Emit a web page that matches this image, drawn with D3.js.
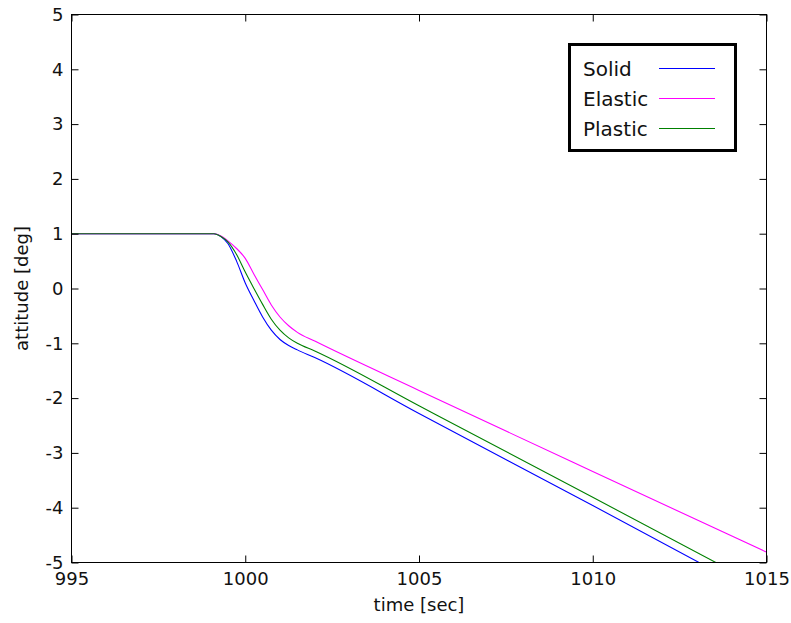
<!DOCTYPE html>
<html>
<head>
<meta charset="utf-8">
<script src="https://cdn.jsdelivr.net/npm/d3@7"></script>
<style>
  html, body { margin: 0; padding: 0; background: #fff; }
  svg { display: block; }
  text { font-family: "DejaVu Sans", sans-serif; fill: #111; }
</style>
</head>
<body>
<svg id="chart" width="791" height="623"></svg>
<script>
// Attitude response after impact, three structural models
const timeSec = [995, 999.1, 999.3, 999.5, 999.75, 1000, 1000.25, 1000.5, 1000.75, 1001, 1001.25, 1001.5, 1002, 1005, 1010, 1015];
const solidDeg   = [1, 1, 0.95, 0.82, 0.50, 0.10, -0.22, -0.52, -0.76, -0.93, -1.04, -1.12, -1.26, -2.28, -3.96, -5.66];
const elasticDeg = [1, 1, 0.96, 0.87, 0.73, 0.55,  0.26, -0.02, -0.30, -0.52, -0.68, -0.80, -0.96, -1.86, -3.34, -4.81];
const plasticDeg = [1, 1, 0.95, 0.85, 0.62, 0.30,  0.00, -0.29, -0.56, -0.76, -0.90, -1.00, -1.14, -2.14, -3.81, -5.49];

const seriesNames  = ["Solid", "Elastic", "Plastic"];
const seriesColors = ["#0000ff", "#ff00ff", "#008000"];
const seriesValues = [solidDeg, elasticDeg, plasticDeg];

const xTicks = [995, 1000, 1005, 1010, 1015];
const yTicks = [-5, -4, -3, -2, -1, 0, 1, 2, 3, 4, 5];

const xLabel = "time [sec]";
const yLabel = "attitude [deg]";

const svg = d3.select("#chart");
const plotLeft = 71.5, plotRight = 766.5, plotTop = 14.5, plotBottom = 562.5;

const x = d3.scaleLinear().domain([995, 1015]).range([plotLeft, plotRight]);
const y = d3.scaleLinear().domain([-5, 5]).range([plotBottom, plotTop]);

svg.append("rect").attr("width", 791).attr("height", 623).attr("fill", "#fff");

svg.append("clipPath").attr("id", "plotClip")
  .append("rect")
  .attr("x", plotLeft).attr("y", plotTop)
  .attr("width", plotRight - plotLeft).attr("height", plotBottom - plotTop);

// Data lines
const line = d3.line()
  .x(d => x(d[0]))
  .y(d => y(d[1]))
  .curve(d3.curveMonotoneX);

const lineGroup = svg.append("g").attr("clip-path", "url(#plotClip)");
seriesValues.forEach((vals, i) => {
  lineGroup.append("path")
    .datum(timeSec.map((t, k) => [t, vals[k]]))
    .attr("fill", "none")
    .attr("stroke", seriesColors[i])
    .attr("stroke-width", 1.1)
    .attr("d", line);
});

// Axes: ticks point inward on all four sides; plain hyphen for negatives
const tickLen = 7;
const plainFormat = d => String(d);
function styleAxis(g) {
  g.selectAll(".domain").remove();
  g.selectAll(".tick line").attr("stroke", "#000").attr("stroke-width", 1);
  g.selectAll(".tick text")
    .attr("fill", "#111")
    .style("font-family", "'DejaVu Sans', sans-serif")
    .style("font-size", "18px");
}

svg.append("g")
  .attr("transform", `translate(0,${plotBottom})`)
  .call(d3.axisBottom(x).tickValues(xTicks).tickFormat(plainFormat)
    .tickSizeInner(-tickLen).tickSizeOuter(0).tickPadding(10))
  .call(styleAxis);

svg.append("g")
  .attr("transform", `translate(0,${plotTop})`)
  .call(d3.axisTop(x).tickValues(xTicks).tickFormat("")
    .tickSizeInner(-tickLen).tickSizeOuter(0))
  .call(styleAxis);

svg.append("g")
  .attr("transform", `translate(${plotLeft},0)`)
  .call(d3.axisLeft(y).tickValues(yTicks).tickFormat(plainFormat)
    .tickSizeInner(-tickLen).tickSizeOuter(0).tickPadding(8))
  .call(styleAxis);

svg.append("g")
  .attr("transform", `translate(${plotRight},0)`)
  .call(d3.axisRight(y).tickValues(yTicks).tickFormat("")
    .tickSizeInner(-tickLen).tickSizeOuter(0))
  .call(styleAxis);

// Plot frame
svg.append("rect")
  .attr("x", plotLeft).attr("y", plotTop)
  .attr("width", plotRight - plotLeft).attr("height", plotBottom - plotTop)
  .attr("fill", "none").attr("stroke", "#000").attr("stroke-width", 1);

// Axis titles
svg.append("text")
  .attr("x", (plotLeft + plotRight) / 2).attr("y", 611)
  .attr("text-anchor", "middle")
  .style("font-size", "18px")
  .text(xLabel);

svg.append("text")
  .attr("transform", `translate(28,${(plotTop + plotBottom) / 2}) rotate(-90)`)
  .attr("text-anchor", "middle")
  .style("font-size", "18px")
  .text(yLabel);

// Legend
const legend = svg.append("g");
legend.append("rect")
  .attr("x", 569.5).attr("y", 44.5)
  .attr("width", 166).attr("height", 106)
  .attr("fill", "#fff").attr("stroke", "#000").attr("stroke-width", 3);

seriesNames.forEach((name, i) => {
  const cy = 68.5 + i * 30;
  legend.append("text")
    .attr("x", 583).attr("y", cy)
    .attr("dy", "0.36em")
    .style("font-size", "20px")
    .text(name);
  legend.append("line")
    .attr("x1", 659).attr("x2", 715)
    .attr("y1", cy).attr("y2", cy)
    .attr("stroke", seriesColors[i]).attr("stroke-width", 1.2);
});
</script>
</body>
</html>
